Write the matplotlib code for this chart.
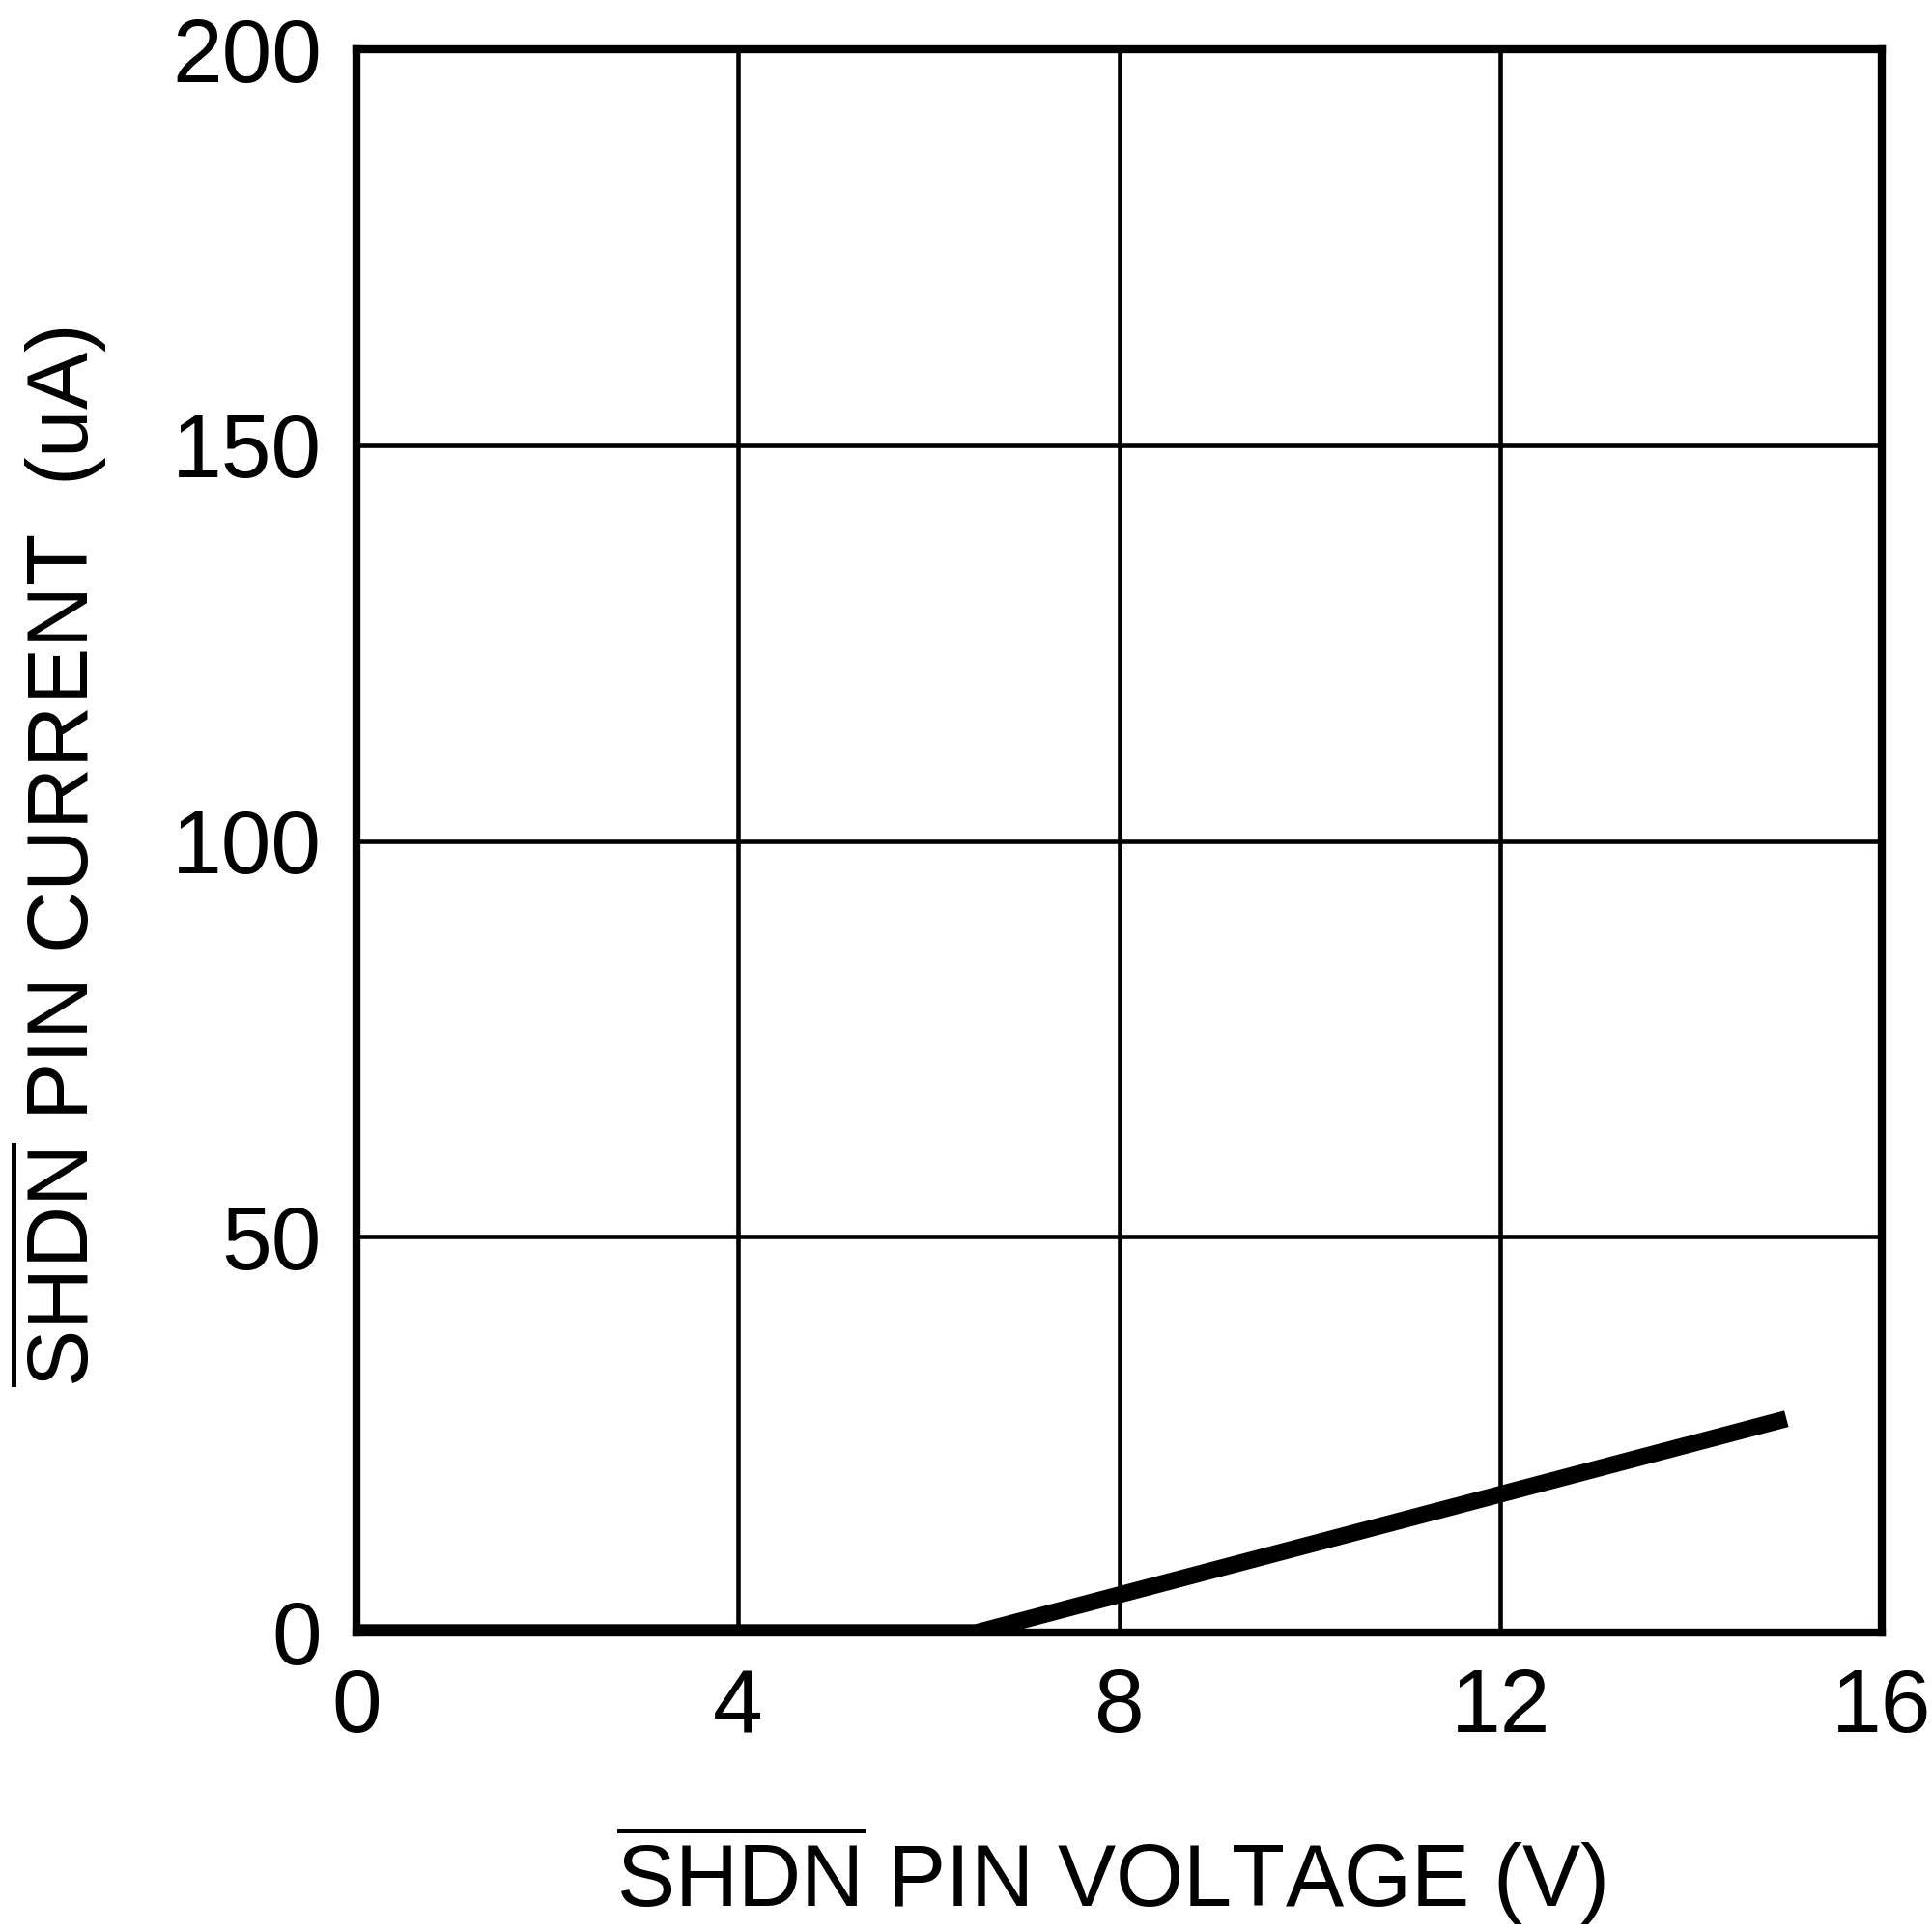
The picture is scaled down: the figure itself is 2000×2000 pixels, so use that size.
import matplotlib
matplotlib.use('Agg')
from matplotlib import pyplot as plt

# данные кривой (напряжение В, ток мкА)
voltage = [0, 6.5, 15]
current = [0, 0, 27]

x_ticks = [0, 4, 8, 12, 16]
y_ticks = [0, 50, 100, 150, 200]

plt.rcParams['font.family'] = ['Liberation Sans', 'DejaVu Sans']
plt.rcParams['mathtext.fontset'] = 'custom'
plt.rcParams['mathtext.rm'] = 'Liberation Sans'
plt.rcParams['mathtext.it'] = 'Liberation Sans'

fig = plt.figure(figsize=(20, 20), dpi=100)
ax = fig.add_axes([0.1845, 0.155, 0.7895, 0.8195])

ax.plot(voltage, current, color='black', linewidth=12.5, solid_capstyle='butt', zorder=3)

ax.set_xlim(0, 16)
ax.set_ylim(0, 200)
ax.set_xticks(x_ticks)
ax.set_yticks(y_ticks)
ax.tick_params(length=0, labelsize=67, pad=26)
ax.grid(True, color='black', linewidth=3.3)

for s in ax.spines.values():
    s.set_linewidth(6)
    s.set_zorder(4)

ax.set_xlabel(r'$\overline{\mathrm{SHDN}}$ PIN VOLTAGE (V)', fontsize=65)
ax.set_ylabel(r'$\overline{\mathrm{SHDN}}$ PIN CURRENT  (uA)', fontsize=64)
ax.xaxis.set_label_coords(0.495, -0.12)
ax.yaxis.set_label_coords(-0.162, 0.49)

plt.savefig('out.png')
